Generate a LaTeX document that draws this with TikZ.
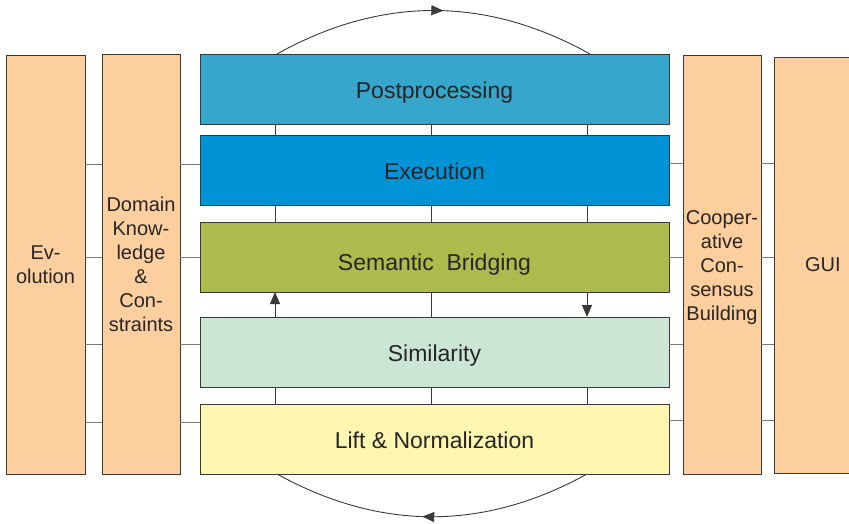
\documentclass[tikz,border=0pt]{standalone}
\usepackage{fontspec}
\setmainfont{Liberation Sans}
\usetikzlibrary{arrows.meta,decorations.markings}
\definecolor{sidec}{HTML}{FDCF9E}
\definecolor{postc}{HTML}{36A6CC}
\definecolor{exec}{HTML}{0093D6}
\definecolor{semc}{HTML}{ADBA4D}
\definecolor{simc}{HTML}{CCE6D6}
\definecolor{liftc}{HTML}{FFF7B1}
\definecolor{edgec}{HTML}{3A3A3A}
\definecolor{connc}{HTML}{7A7A7A}
\tikzset{
  box/.style={draw=edgec, line width=0.9pt, inner sep=0pt, outer sep=0pt, align=center, text=black!85},
  layer/.style={box, minimum width=469pt, minimum height=70pt, font=\fontsize{23}{27}\selectfont, text height=19pt, text depth=0pt},
  side/.style={box, fill=sidec, font=\fontsize{20}{24}\selectfont},
  conn/.style={draw=connc, line width=0.9pt},
  vconn/.style={draw=edgec, line width=0.9pt},
  tip/.style={-{Triangle[length=12pt,width=10pt]}},
  midarrow/.style={decoration={markings, mark=at position 0.53 with {\arrow{Triangle[length=12pt,width=10pt]}}}, postaction={decorate}}
}
\begin{document}
\begin{tikzpicture}[x=1pt,y=-1pt]
\useasboundingbox (0,0) rectangle (849,523);
\clip (0,0) rectangle (849,523);
% center layers
\node[layer, fill=postc] (post) at (434.5,89) {Postprocessing};
\node[layer, fill=exec] (exe) at (434.5,170) {Execution};
\node[layer, fill=semc, text height=27pt] (sem) at (434.5,257) {Semantic\ \ Bridging};
\node[layer, fill=simc] (sim) at (434.5,352) {Similarity};
\node[layer, fill=liftc] (lift) at (434.5,439) {Lift \& Normalization};
% side boxes
\node[side, minimum width=79pt, minimum height=419pt] (evo) at (45.5,264.5) {Ev-\\olution};
\node[side, minimum width=78pt, minimum height=420pt] (dom) at (141,264) {Domain\\Know-\\ledge\\\&\\Con-\\straints};
\node[side, minimum width=78pt, minimum height=419pt] (coop) at (722,264.5) {\rule{0pt}{3pt}\\[-6pt]Cooper-\\ative\\Con-\\sensus\\Building};
\node[side, minimum width=96pt, minimum height=416pt, text width=76pt, align=left] (gui) at (822,265) {\hspace*{21pt}GUI};
% level coordinates
\coordinate (l1) at (0,164);
\coordinate (l2) at (0,257);
\coordinate (l3) at (0,344);
\coordinate (l4) at (0,422);
\coordinate (r1) at (0,163);
\coordinate (r2) at (0,257);
\coordinate (r3) at (0,344);
\coordinate (r4) at (0,420);
\foreach \l in {l1,l2,l3,l4}{
  \draw[conn] (evo.east |- \l) -- (dom.west |- \l);
  \draw[conn] (dom.east |- \l) -- (post.west |- \l);
}
\foreach \r in {r1,r2,r3,r4}{
  \draw[conn] (post.east |- \r) -- (coop.west |- \r);
  \draw[conn] (coop.east |- \r) -- (gui.west |- \r);
}
% vertical columns
\coordinate (ca) at (275,0);
\coordinate (cb) at (431,0);
\coordinate (cc) at (587,0);
\foreach \c in {ca,cb,cc}{
  \draw[vconn] (post.south -| \c) -- (exe.north -| \c);
  \draw[vconn] (exe.south -| \c) -- (sem.north -| \c);
  \draw[vconn] (sim.south -| \c) -- (lift.north -| \c);
}
\draw[vconn, tip] (sim.north -| ca) -- (sem.south -| ca);
\draw[vconn] (sim.north -| cb) -- (sem.south -| cb);
\draw[vconn, tip] (sem.south -| cc) -- (sim.north -| cc);
% loops
\coordinate (ta) at (277,0);
\coordinate (tb) at (590,0);
\coordinate (ba) at (277,0);
\coordinate (bb) at (587,0);
\draw[vconn, midarrow] (post.north -| ta) .. controls (381,-4) and (486,-4) .. (post.north -| tb);
\draw[vconn, midarrow] (lift.south -| bb) .. controls (484,531) and (380,531) .. (lift.south -| ba);
\end{tikzpicture}
\end{document}
